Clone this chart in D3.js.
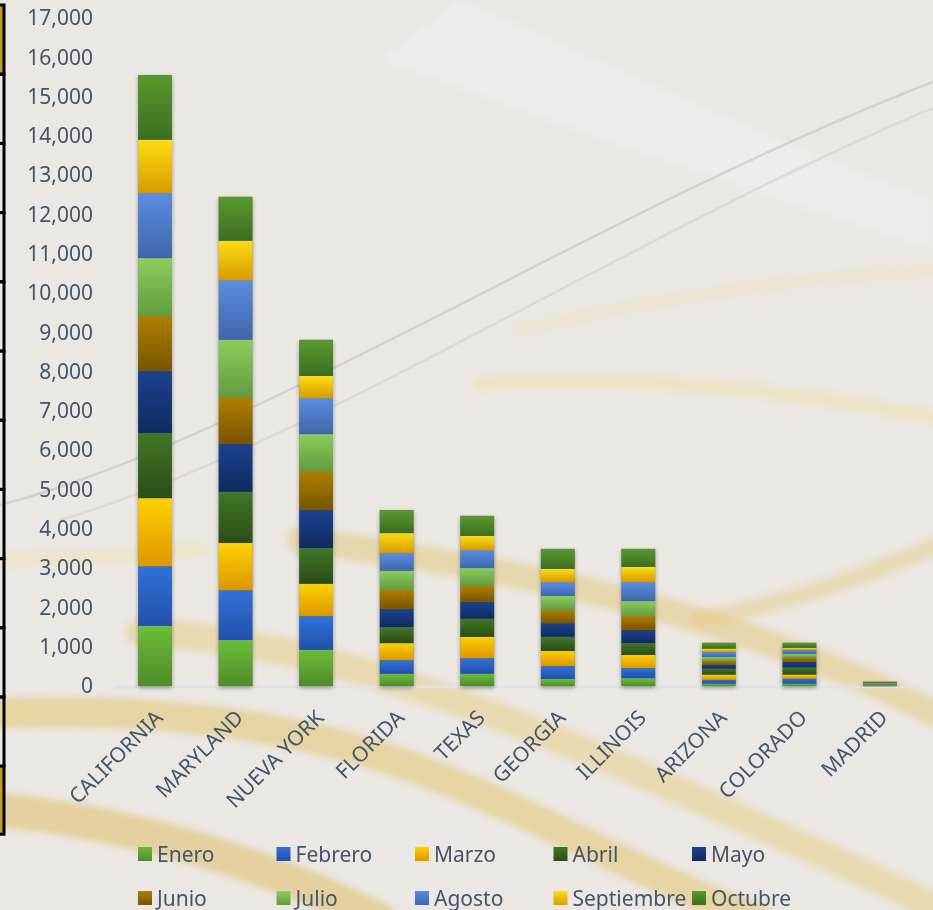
<!DOCTYPE html>
<html>
<head>
<meta charset="utf-8">
<script src="https://cdn.jsdelivr.net/npm/d3@7"></script>
<style>
  html, body { margin: 0; padding: 0; background: #ebe7e3; }
  svg { display: block; font-family: "Noto Sans", "Open Sans", sans-serif; }
</style>
</head>
<body>
<div id="chart"></div>
<script>
// categories and months
var states = ["CALIFORNIA", "MARYLAND", "NUEVA YORK", "FLORIDA", "TEXAS",
              "GEORGIA", "ILLINOIS", "ARIZONA", "COLORADO", "MADRID"];
var months = ["Enero", "Febrero", "Marzo", "Abril", "Mayo",
              "Junio", "Julio", "Agosto", "Septiembre", "Octubre"];

// one array per month, values in state order
var enero      = [1530, 1170, 920, 310, 310, 180, 200, 60, 60, 10];
var febrero    = [1520, 1270, 860, 350, 400, 330, 260, 100, 130, 5];
var marzo      = [1730, 1200, 820, 430, 540, 380, 330, 130, 100, 5];
var abril      = [1660, 1300, 910, 410, 460, 360, 300, 150, 180, 10];
var mayo       = [1580, 1220, 970, 460, 430, 350, 340, 100, 150, 5];
var junio      = [1400, 1190, 990, 490, 410, 330, 350, 100, 100, 5];
var julio      = [1470, 1460, 940, 480, 450, 360, 380, 100, 100, 10];
var agosto     = [1660, 1520, 920, 460, 460, 360, 490, 130, 100, 10];
var septiembre = [1350, 1000, 560, 500, 360, 330, 380, 80, 50, 10];
var octubre    = [1650, 1120, 920, 590, 510, 510, 460, 150, 130, 40];

var seriesValues = [enero, febrero, marzo, abril, mayo, junio, julio, agosto, septiembre, octubre];
var yTicks = d3.range(0, 17001, 1000);

// gradient stops (top, bottom) for every month
var colorTop = ["#6cbd3a", "#3172da", "#ffd000", "#417726", "#1b4290",
                "#b07f00", "#8ccd5c", "#5b8de2", "#ffdc14", "#589a2e"];
var colorBottom = ["#4f8c28", "#2150a8", "#dc9800", "#2b4c17", "#102a5e",
                   "#785400", "#629c40", "#3f66a8", "#d69c00", "#3d6d20"];

var W = 933, H = 910;
var margin = {top: 18, bottom: 686, left: 114.75, right: 920.25};

var svg = d3.select("#chart").append("svg")
    .attr("width", W)
    .attr("height", H);

var defs = svg.append("defs");

months.forEach(function(m, i) {
    var g = defs.append("linearGradient")
        .attr("id", "grad" + i)
        .attr("x1", 0).attr("y1", 0).attr("x2", 0).attr("y2", 1);
    g.append("stop").attr("offset", "0%").attr("stop-color", colorTop[i]);
    g.append("stop").attr("offset", "100%").attr("stop-color", colorBottom[i]);
});

var blur = defs.append("filter").attr("id", "soft")
    .attr("x", "-20%").attr("y", "-20%").attr("width", "140%").attr("height", "140%");
blur.append("feGaussianBlur").attr("stdDeviation", 3);

var shadow = defs.append("filter").attr("id", "shadow")
    .attr("x", "-30%").attr("y", "-10%").attr("width", "160%").attr("height", "120%");
shadow.append("feDropShadow")
    .attr("dx", 0).attr("dy", 2)
    .attr("stdDeviation", 2)
    .attr("flood-color", "#000")
    .attr("flood-opacity", 0.35);

// background
svg.append("rect")
    .attr("width", W).attr("height", H)
    .attr("fill", "#ebe7e3");

var deco = svg.append("g").attr("filter", "url(#soft)");

// light sheen top
deco.append("path")
    .attr("d", "M380,60 C520,110 680,170 933,250 L933,200 C720,120 560,40 460,0 Z")
    .attr("fill", "#f2f0ed").attr("opacity", 0.6);

var bands = [
    {d: "M-20,714 C150,705 300,725 420,770 S650,880 760,920", w: 30, c: "#e3c46e", o: 0.55},
    {d: "M140,632 C320,640 520,720 700,800 S880,880 950,915", w: 28, c: "#e6c978", o: 0.45},
    {d: "M300,540 C450,560 620,590 760,640 S900,700 950,720", w: 26, c: "#e3c46e", o: 0.45},
    {d: "M-20,808 C120,820 260,860 380,920", w: 34, c: "#e0bf66", o: 0.55},
    {d: "M480,384 C650,372 820,395 950,420", w: 14, c: "#eee0a0", o: 0.45},
    {d: "M520,330 C650,300 800,275 950,270", w: 10, c: "#eee3b0", o: 0.4},
    {d: "M700,620 C800,600 880,570 950,540", w: 18, c: "#e6c978", o: 0.4},
    {d: "M0,560 C60,560 120,555 200,550", w: 14, c: "#eee3b0", o: 0.45}
];
bands.forEach(function(b) {
    deco.append("path")
        .attr("d", b.d)
        .attr("fill", "none")
        .attr("stroke", b.c)
        .attr("stroke-width", b.w)
        .attr("stroke-linecap", "round")
        .attr("opacity", b.o);
});

// thin grey swoosh lines
[{d: "M0,505 C250,440 600,210 933,82", o: 0.7},
 {d: "M60,520 C300,450 630,235 933,108", o: 0.45}].forEach(function(l) {
    svg.append("path")
        .attr("d", l.d)
        .attr("fill", "none")
        .attr("stroke", "#cbc7c3")
        .attr("stroke-width", 2.5)
        .attr("opacity", l.o);
});

// left edge ruler
var ruler = svg.append("g");
d3.range(12).forEach(function(i) {
    var top = 5 + i * 69.2;
    var h = i === 11 ? 68 : 69.2;
    ruler.append("rect")
        .attr("x", -6).attr("y", top)
        .attr("width", 10).attr("height", h)
        .attr("fill", (i === 0 || i === 11) ? "#c49b29" : "none")
        .attr("stroke", "#000")
        .attr("stroke-width", 3);
});

// scales
var x = d3.scaleBand()
    .domain(states)
    .range([margin.left, margin.right])
    .paddingInner(0.58)
    .paddingOuter(0.29);

var y = d3.scaleLinear()
    .domain([0, 17000])
    .range([margin.bottom, margin.top]);

// y axis labels
var yAxis = d3.axisLeft(y)
    .tickValues(yTicks)
    .tickFormat(d3.format(","))
    .tickSize(0)
    .tickPadding(0);

var yg = svg.append("g")
    .attr("transform", "translate(93,0)")
    .call(yAxis);
yg.select(".domain").remove();
yg.selectAll("text")
    .attr("fill", "#44546a")
    .style("font-size", "21px")
    .style("font-family", "'Noto Sans', sans-serif");

// baseline
svg.append("line")
    .attr("x1", margin.left).attr("x2", margin.right)
    .attr("y1", y(0) + 1).attr("y2", y(0) + 1)
    .attr("stroke", "#dfe3e8")
    .attr("stroke-width", 2.5);

// stacked bars
var rows = states.map(function(s, i) {
    var r = {state: s};
    months.forEach(function(m, j) { r[m] = seriesValues[j][i]; });
    return r;
});

var stack = d3.stack().keys(months);
var stacked = stack(rows);

var barsG = svg.append("g");

// shadow backing for each whole bar
barsG.selectAll(".bar-shadow")
    .data(rows)
    .enter()
  .append("rect")
    .attr("class", "bar-shadow")
    .attr("x", function(d) { return x(d.state); })
    .attr("width", x.bandwidth())
    .attr("y", function(d) { return y(d3.sum(months, function(m) { return d[m]; })); })
    .attr("height", function(d) { return y(0) - y(d3.sum(months, function(m) { return d[m]; })); })
    .attr("fill", "#888")
    .attr("filter", "url(#shadow)");

barsG.selectAll(".series")
    .data(stacked)
    .enter()
  .append("g")
    .attr("class", "series")
    .attr("fill", function(d, i) { return "url(#grad" + i + ")"; })
  .selectAll("rect")
    .data(function(d) { return d; })
    .enter()
  .append("rect")
    .attr("x", function(d) { return x(d.data.state); })
    .attr("width", x.bandwidth())
    .attr("y", function(d) { return y(d[1]); })
    .attr("height", function(d) { return y(d[0]) - y(d[1]); });

// category labels
var xAxis = d3.axisBottom(x).tickSize(0).tickPadding(0);
var xg = svg.append("g")
    .attr("transform", "translate(0," + y(0) + ")")
    .call(xAxis);
xg.select(".domain").remove();
xg.selectAll("text")
    .attr("fill", "#44546a")
    .style("font-size", "21px")
    .style("font-family", "'Noto Sans', sans-serif")
    .attr("text-anchor", "end")
    .attr("y", 0)
    .attr("dy", 0)
    .attr("transform", "translate(9,33) rotate(-45)");

// legend
var legend = svg.append("g");
months.forEach(function(m, i) {
    var col = i % 5, row = Math.floor(i / 5);
    var lx = 138 + col * 138.5;
    var ly = 847 + row * 44;
    legend.append("rect")
        .attr("x", lx).attr("y", ly)
        .attr("width", 14).attr("height", 14)
        .attr("fill", "url(#grad" + i + ")");
    legend.append("text")
        .attr("x", lx + 19)
        .attr("y", ly + 15)
        .attr("fill", "#44546a")
        .style("font-size", "21px")
        .text(m);
});
</script>
</body>
</html>
